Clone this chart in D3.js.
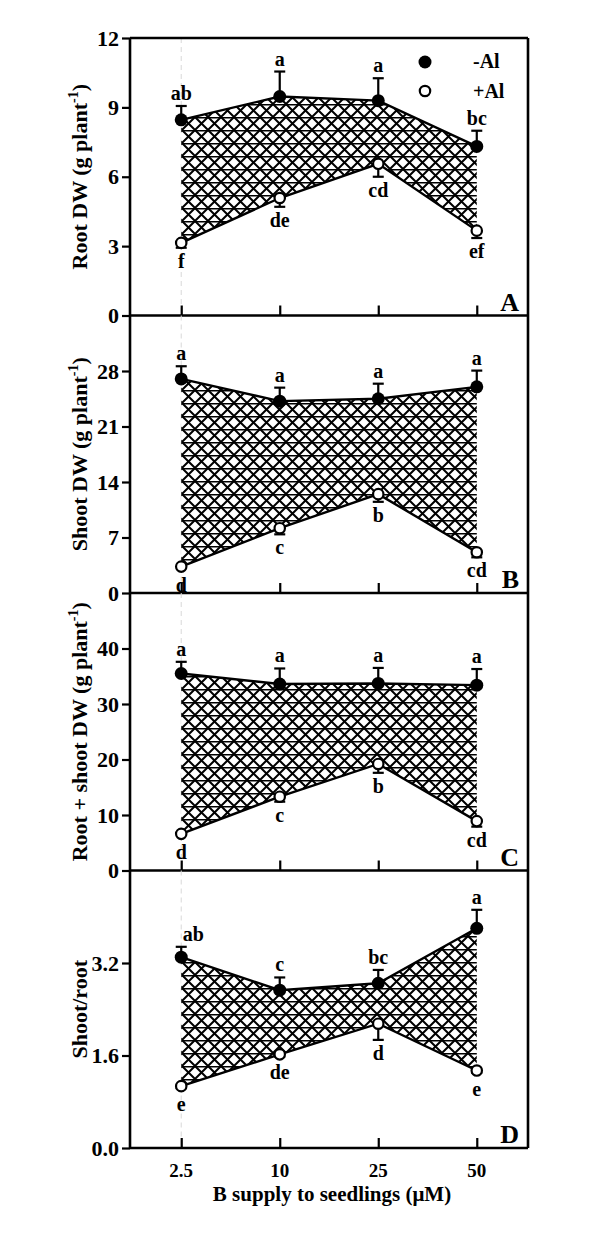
<!DOCTYPE html>
<meta charset="utf-8">
<style>
  body { margin: 0; background: #fff; }
  text { font-family: "Liberation Serif", "Times New Roman", serif; font-weight: bold; fill: #000; }
</style>
<body>
<svg width="600" height="1259"></svg>
<script src="https://d3js.org/d3.v7.min.js"></script>
<script>
  // B supply levels (uM)
  var doses = ['2.5', '10', '25', '50']

  // panel A: root DW
  var rootMinus = [8.46, 9.47, 9.29, 7.31]
  var rootMinusSE = [0.6, 1.08, 0.97, 0.68]
  var rootPlus = [3.14, 5.08, 6.56, 3.67]
  var rootPlusSE = [0.21, 0.38, 0.56, 0.32]
  var rootMinusLet = ['ab', 'a', 'a', 'bc']
  var rootPlusLet = ['f', 'de', 'cd', 'ef']

  // panel B: shoot DW
  var shootMinus = [27.0, 24.2, 24.5, 26.0]
  var shootMinusSE = [1.6, 1.7, 1.9, 2.05]
  var shootPlus = [3.33, 8.17, 12.47, 5.14]
  var shootPlusSE = [0, 0.77, 0.97, 0.64]
  var shootMinusLet = ['a', 'a', 'a', 'a']
  var shootPlusLet = ['d', 'c', 'b', 'cd']

  // panel C: root + shoot DW
  var totalMinus = [35.5, 33.6, 33.7, 33.4]
  var totalMinusSE = [2.1, 2.8, 2.8, 2.9]
  var totalPlus = [6.6, 13.3, 19.2, 8.9]
  var totalPlusSE = [0, 0.9, 1.6, 1.0]
  var totalMinusLet = ['a', 'a', 'a', 'a']
  var totalPlusLet = ['d', 'c', 'b', 'cd']

  // panel D: shoot/root ratio
  var ratioMinus = [3.30, 2.73, 2.85, 3.80]
  var ratioMinusSE = [0.18, 0.22, 0.23, 0.32]
  var ratioPlus = [1.07, 1.62, 2.15, 1.34]
  var ratioPlusSE = [0.03, 0.04, 0.28, 0.04]
  var ratioMinusLet = ['ab', 'c', 'bc', 'a']
  var ratioPlusLet = ['e', 'de', 'd', 'e']

  var rootTicks = [0, 3, 6, 9, 12]
  var shootTicks = [0, 7, 14, 21, 28]
  var totalTicks = [0, 10, 20, 30, 40]
  var ratioTicks = [0, 1.6, 3.2]

  var panels = [
    { tag: 'A', label: 'Root DW (g plant', sup: true, max: 12, ticks: rootTicks, fmt: d3.format('d'),
      minus: rootMinus, minusSE: rootMinusSE, plus: rootPlus, plusSE: rootPlusSE, minusLet: rootMinusLet, plusLet: rootPlusLet },
    { tag: 'B', label: 'Shoot DW (g plant', sup: true, max: 35, ticks: shootTicks, fmt: d3.format('d'),
      minus: shootMinus, minusSE: shootMinusSE, plus: shootPlus, plusSE: shootPlusSE, minusLet: shootMinusLet, plusLet: shootPlusLet },
    { tag: 'C', label: 'Root + shoot DW (g plant', sup: true, max: 50, ticks: totalTicks, fmt: d3.format('d'),
      minus: totalMinus, minusSE: totalMinusSE, plus: totalPlus, plusSE: totalPlusSE, minusLet: totalMinusLet, plusLet: totalPlusLet },
    { tag: 'D', label: 'Shoot/root', sup: false, max: 4.8, ticks: ratioTicks, fmt: d3.format('.1f'),
      minus: ratioMinus, minusSE: ratioMinusSE, plus: ratioPlus, plusSE: ratioPlusSE, minusLet: ratioMinusLet, plusLet: ratioPlusLet }
  ]

  var plotLeft = 130
  var plotRight = 528
  var plotTop = 38
  var panelH = 277.5

  var svg = d3.select('svg')

  // crosshatch fill between the two series
  var pat = svg.append('defs').append('pattern')
    .attr('id', 'hatch')
    .attr('patternUnits', 'userSpaceOnUse')
    .attr('width', 13)
    .attr('height', 13)
  pat.append('rect').attr('width', 13).attr('height', 13).attr('fill', '#fff')
  pat.append('path')
    .attr('d', 'M0,0L13,13M13,0L0,13')
    .attr('stroke', '#000')
    .attr('stroke-width', 2)
    .attr('fill', 'none')
  pat.append('path')
    .attr('d', 'M-1,0.75H14')
    .attr('stroke', '#000')
    .attr('stroke-width', 1.5)

  var x = d3.scalePoint()
    .domain(doses)
    .range([plotLeft, plotRight])
    .padding(0.52)

  panels.forEach(function(p, k) {
    var y0 = plotTop + panelH * (k + 1)
    var y1 = plotTop + panelH * k
    var y = d3.scaleLinear().domain([0, p.max]).range([y0, y1])
    var g = svg.append('g')

    // faint dashed guide at the first dose
    g.append('line')
      .attr('x1', x(doses[0])).attr('x2', x(doses[0]))
      .attr('y1', y1).attr('y2', y0)
      .attr('stroke', '#d8d8d8')
      .attr('stroke-dasharray', '5,4')
      .attr('stroke-width', 1)

    var rows = doses.map(function(d, i) {
      return { dose: d, hi: p.minus[i], lo: p.plus[i], hiSE: p.minusSE[i], loSE: p.plusSE[i],
        hiLet: p.minusLet[i], loLet: p.plusLet[i] }
    })

    var area = d3.area()
      .x(function(d) { return x(d.dose) })
      .y0(function(d) { return y(d.lo) })
      .y1(function(d) { return y(d.hi) })
    g.append('path')
      .datum(rows)
      .attr('d', area)
      .attr('fill', 'url(#hatch)')

    var lineHi = d3.line().x(function(d) { return x(d.dose) }).y(function(d) { return y(d.hi) })
    var lineLo = d3.line().x(function(d) { return x(d.dose) }).y(function(d) { return y(d.lo) })
    g.append('path').datum(rows).attr('d', lineHi).attr('fill', 'none').attr('stroke', '#000').attr('stroke-width', 2.4)
    g.append('path').datum(rows).attr('d', lineLo).attr('fill', 'none').attr('stroke', '#000').attr('stroke-width', 2.4)

    // error bars: -Al upward, +Al downward
    rows.forEach(function(d) {
      var cx = x(d.dose)
      if (d.hiSE > 0) {
        g.append('line').attr('x1', cx).attr('x2', cx).attr('y1', y(d.hi)).attr('y2', y(d.hi + d.hiSE))
          .attr('stroke', '#000').attr('stroke-width', 2.2)
        g.append('line').attr('x1', cx - 5.5).attr('x2', cx + 5.5).attr('y1', y(d.hi + d.hiSE)).attr('y2', y(d.hi + d.hiSE))
          .attr('stroke', '#000').attr('stroke-width', 2.2)
      }
      if (d.loSE > 0) {
        g.append('line').attr('x1', cx).attr('x2', cx).attr('y1', y(d.lo)).attr('y2', y(d.lo - d.loSE))
          .attr('stroke', '#000').attr('stroke-width', 2.2)
        g.append('line').attr('x1', cx - 5.5).attr('x2', cx + 5.5).attr('y1', y(d.lo - d.loSE)).attr('y2', y(d.lo - d.loSE))
          .attr('stroke', '#000').attr('stroke-width', 2.2)
      }
    })

    g.selectAll('.hi').data(rows).enter().append('circle')
      .attr('cx', function(d) { return x(d.dose) })
      .attr('cy', function(d) { return y(d.hi) })
      .attr('r', 6.5)
      .attr('fill', '#000')
    g.selectAll('.lo').data(rows).enter().append('circle')
      .attr('cx', function(d) { return x(d.dose) })
      .attr('cy', function(d) { return y(d.lo) })
      .attr('r', 5.2)
      .attr('fill', '#fff')
      .attr('stroke', '#000')
      .attr('stroke-width', 2.2)

    // significance letters
    g.selectAll('.hl').data(rows).enter().append('text')
      .attr('x', function(d, i) { return x(d.dose) + (p.tag === 'D' && i === 0 ? 12 : 0) })
      .attr('y', function(d) { return y(d.hi + d.hiSE) - 6 })
      .attr('text-anchor', 'middle')
      .attr('font-size', 20)
      .text(function(d) { return d.hiLet })
    g.selectAll('.ll').data(rows).enter().append('text')
      .attr('x', function(d) { return x(d.dose) })
      .attr('y', function(d) { return Math.max(y(d.lo) + 5, y(d.lo - d.loSE)) + 20 })
      .attr('text-anchor', 'middle')
      .attr('font-size', 20)
      .text(function(d) { return d.loLet })

    // y axis
    var yAxis = d3.axisLeft(y).tickValues(p.ticks).tickFormat(p.fmt).tickSize(8).tickPadding(3)
    var ya = g.append('g').attr('transform', 'translate(' + plotLeft + ',0)').call(yAxis)
    ya.select('.domain').remove()
    ya.selectAll('line').attr('stroke-width', 2.2)
    ya.selectAll('text').attr('font-size', 22).attr('font-family', '"Liberation Serif", serif').attr('font-weight', 'bold')

    // x ticks inside at the bottom
    var xAxis = d3.axisTop(x).tickSize(10).tickFormat('')
    var xa = g.append('g').attr('transform', 'translate(0,' + y0 + ')').call(xAxis)
    xa.select('.domain').remove()
    xa.selectAll('line').attr('stroke-width', 2.2)

    // bottom border of the panel
    g.append('line').attr('x1', plotLeft).attr('x2', plotRight).attr('y1', y0).attr('y2', y0)
      .attr('stroke', '#000').attr('stroke-width', 2.6)

    // panel tag
    g.append('text')
      .attr('x', 519).attr('y', y0 - 5)
      .attr('text-anchor', 'end')
      .attr('font-size', 26)
      .text(p.tag)

    // y label
    var lab = g.append('text')
      .attr('transform', 'translate(87,' + (y1 + y0) / 2 + ') rotate(-90)')
      .attr('text-anchor', 'middle')
      .attr('font-size', 22)
    lab.append('tspan').text(p.label)
    if (p.sup) {
      lab.append('tspan').attr('font-size', 14).attr('dy', -9).text('-1')
      lab.append('tspan').attr('dy', 9).text(')')
    }
  })

  // outer frame
  var plotBottom = plotTop + panelH * 4
  svg.append('line').attr('x1', plotLeft).attr('x2', plotLeft).attr('y1', plotTop).attr('y2', plotBottom)
    .attr('stroke', '#000').attr('stroke-width', 2.6)
  svg.append('line').attr('x1', plotRight).attr('x2', plotRight).attr('y1', plotTop).attr('y2', plotBottom)
    .attr('stroke', '#000').attr('stroke-width', 2.6)
  svg.append('line').attr('x1', plotLeft).attr('x2', plotRight).attr('y1', plotTop).attr('y2', plotTop)
    .attr('stroke', '#000').attr('stroke-width', 2.6)

  // x tick labels
  svg.selectAll('.xl').data(doses).enter().append('text')
    .attr('x', function(d) { return x(d) })
    .attr('y', plotBottom + 29)
    .attr('text-anchor', 'middle')
    .attr('font-size', 19)
    .text(function(d) { return d })

  svg.append('text')
    .attr('x', 332).attr('y', plotBottom + 53)
    .attr('text-anchor', 'middle')
    .attr('font-size', 21)
    .text('B supply to seedlings (\u03bcM)')

  // legend
  var legend = [{ name: '-Al', fill: '#000' }, { name: '+Al', fill: '#fff' }]
  var lg = svg.append('g')
  lg.selectAll('circle').data(legend).enter().append('circle')
    .attr('cx', 425)
    .attr('cy', function(d, i) { return 62 + i * 29 })
    .attr('r', function(d, i) { return i ? 5.2 : 6.5 })
    .attr('fill', function(d) { return d.fill })
    .attr('stroke', '#000')
    .attr('stroke-width', function(d, i) { return i ? 2.2 : 0 })
  lg.selectAll('text').data(legend).enter().append('text')
    .attr('x', 473)
    .attr('y', function(d, i) { return 68 + i * 30 })
    .attr('font-size', 20)
    .text(function(d) { return d.name })
</script>
</body>
